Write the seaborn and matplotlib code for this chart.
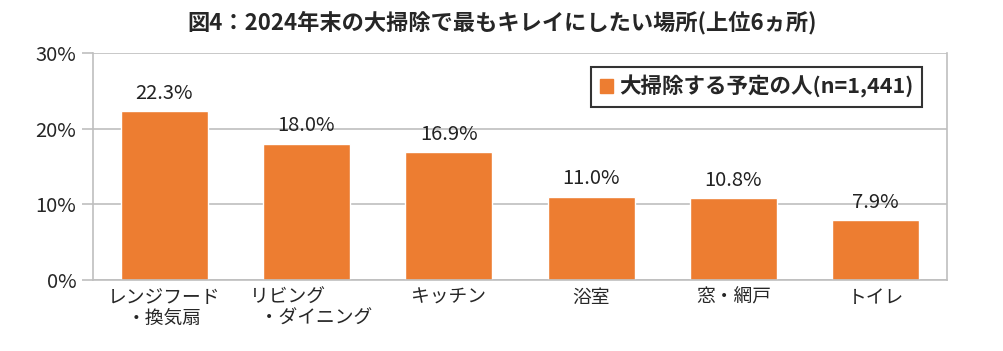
import matplotlib
matplotlib.use("Agg")
import matplotlib.pyplot as plt
import seaborn as sns
import pandas as pd
from matplotlib.patches import Patch

categories = ["レンジフード\n・換気扇", "リビング　　\n　・ダイニング", "キッチン", "浴室", "窓・網戸", "トイレ"]
values = [22.3, 18.0, 16.9, 11.0, 10.8, 7.9]
yticks = [0, 10, 20, 30]
ytick_labels = ["0%", "10%", "20%", "30%"]
title = "図4：2024年末の大掃除で最もキレイにしたい場所(上位6ヵ所)"
series_name = "大掃除する予定の人(n=1,441)"

sns.set_theme(style="white")
plt.rcParams['font.family'] = ['Noto Sans CJK JP', 'DejaVu Sans']

df = pd.DataFrame({"cat": categories, "val": values})
color = "#ED7D31"

fig = plt.figure(figsize=(10.04, 3.51), dpi=100)
ax = fig.add_axes([0.0926, 0.2023, 0.8506, 0.6467])
sns.barplot(data=df, x="cat", y="val", color=color, width=0.61, saturation=1, ax=ax)

ax.set_ylim(0, 30)
ax.set_xlim(-0.5, len(categories) - 0.5)
ax.set_yticks(yticks)
ax.set_yticklabels(ytick_labels, fontsize=14.5)
ax.yaxis.grid(True, color="#BFBFBF", linewidth=1.2)
ax.set_axisbelow(True)
ax.set_xlabel("")
ax.set_ylabel("")
ax.tick_params(axis="y", length=8, color="#BFBFBF", width=1.2, pad=4, left=True)
ax.tick_params(axis="x", length=0, pad=5, labelsize=13.5)
for lbl in ax.get_xticklabels():
    lbl.set_linespacing(1.0)
for s in ["left", "right", "bottom"]:
    ax.spines[s].set_color("#BFBFBF")
    ax.spines[s].set_linewidth(1.2)
ax.spines["top"].set_visible(False)

for i, v in enumerate(values):
    ax.text(i, v + 1.0, f"{v:.1f}%", ha="center", va="bottom", fontsize=14.5, color="#222222")

leg = ax.legend(handles=[Patch(facecolor=color, edgecolor=color)], labels=[series_name],
                loc="upper right", bbox_to_anchor=(0.971, 0.94), frameon=True, fancybox=False,
                prop={"weight": "bold", "size": 15.5, "family": ["Noto Sans CJK JP", "DejaVu Sans"]},
                handlelength=0.6, handleheight=0.6, handletextpad=0.3, borderpad=0.4,
                borderaxespad=0)
leg.get_frame().set_edgecolor("black")
leg.get_frame().set_linewidth(1.5)

fig.text(0.5, 0.935, title, ha="center", va="center", fontsize=16, fontweight="bold")

fig.savefig("out.png", dpi=100)
